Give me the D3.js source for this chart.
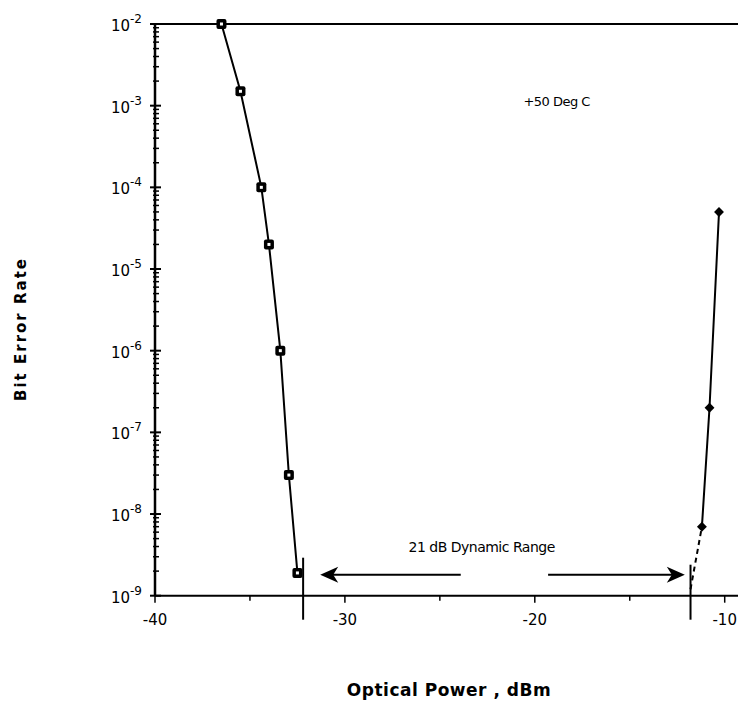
<!DOCTYPE html>
<html>
<head>
<meta charset="utf-8">
<script src="https://cdn.jsdelivr.net/npm/d3@7"></script>
<style>
  body { margin: 0; background: #fff; }
  text { font-family: "DejaVu Sans", sans-serif; }
</style>
</head>
<body>
<div id="chart"></div>
<script>
// BER vs optical power, +50 C, with dynamic range markers

var lowPower = [-36.5, -35.5, -34.4, -34.0, -33.4, -32.95, -32.5];
var lowBer = [1e-2, 1.5e-3, 1e-4, 2e-5, 1e-6, 3e-8, 1.9e-9];

var highPower = [-11.2, -10.8, -10.3];
var highBer = [7e-9, 2e-7, 5e-5];

// dashed extrapolation of the overload curve
var extPower = [-11.8, -11.2];
var extBer = [1.2e-9, 7e-9];

var rangeEdges = [-32.2, -11.8];
var xTicks = [-40, -30, -20, -10];
var yExponents = [-2, -3, -4, -5, -6, -7, -8, -9];

(function() {
  var width = 738, height = 711;
  var margin = { top: 24, left: 155, right: 0, bottom: 115 };

  var svg = d3.select("#chart")
    .append("svg")
    .attr("width", width)
    .attr("height", height);

  var x = d3.scaleLinear()
    .domain([-40, -9.3])
    .range([margin.left, width - margin.right]);

  var y = d3.scaleLog()
    .domain([1e-9, 1e-2])
    .range([height - margin.bottom - 0.3, margin.top]);

  var low = lowPower.map(function(p, i) { return { p: p, b: lowBer[i] }; });
  var high = highPower.map(function(p, i) { return { p: p, b: highBer[i] }; });
  var ext = extPower.map(function(p, i) { return { p: p, b: extBer[i] }; });

  var line = d3.line()
    .x(function(d) { return x(d.p); })
    .y(function(d) { return y(d.b); });

  var y0 = y(1e-9), yTop = y(1e-2);

  // frame: top line and axes
  svg.append("line")
    .attr("x1", x(-40)).attr("x2", width)
    .attr("y1", yTop).attr("y2", yTop)
    .attr("stroke", "#000").attr("stroke-width", 2);
  svg.append("line")
    .attr("x1", x(-40)).attr("x2", width)
    .attr("y1", y0).attr("y2", y0)
    .attr("stroke", "#000").attr("stroke-width", 2);
  svg.append("line")
    .attr("x1", x(-40)).attr("x2", x(-40))
    .attr("y1", yTop).attr("y2", y0)
    .attr("stroke", "#000").attr("stroke-width", 2.5);

  // y ticks: majors + minors
  var minor = [];
  yExponents.forEach(function(e) {
    if (e === -2) return;
    for (var k = 2; k <= 9; k++) minor.push(k * Math.pow(10, e));
  });
  svg.selectAll(".ymin")
    .data(minor)
    .enter().append("line")
    .attr("x1", x(-40) - 2).attr("x2", x(-40) + 4)
    .attr("y1", function(d) { return y(d); })
    .attr("y2", function(d) { return y(d); })
    .attr("stroke", "#000").attr("stroke-width", 1.5);
  svg.selectAll(".ymaj")
    .data(yExponents)
    .enter().append("line")
    .attr("x1", x(-40) - 5).attr("x2", x(-40) + 6)
    .attr("y1", function(d) { return y(Math.pow(10, d)); })
    .attr("y2", function(d) { return y(Math.pow(10, d)); })
    .attr("stroke", "#000").attr("stroke-width", 2);

  var ylab = svg.selectAll(".ylab")
    .data(yExponents)
    .enter().append("text")
    .attr("x", x(-40) - 13)
    .attr("y", function(d) { return y(Math.pow(10, d)) + 7; })
    .attr("text-anchor", "end")
    .attr("font-size", 15);
  ylab.append("tspan").text("10");
  ylab.append("tspan")
    .attr("dy", -8)
    .attr("font-size", 12)
    .text(function(d) { return "-" + (-d); });

  // x ticks every 5 dB
  var xt = d3.range(-40, -9, 5);
  svg.selectAll(".xt")
    .data(xt)
    .enter().append("line")
    .attr("x1", function(d) { return x(d); })
    .attr("x2", function(d) { return x(d); })
    .attr("y1", y0)
    .attr("y2", function(d) { return d % 10 === 0 ? y0 + 7 : y0 + 5; })
    .attr("stroke", "#000").attr("stroke-width", 1.5);
  svg.selectAll(".xlab")
    .data(xTicks)
    .enter().append("text")
    .attr("x", function(d) { return x(d); })
    .attr("y", y0 + 29)
    .attr("text-anchor", "middle")
    .attr("font-size", 15)
    .text(function(d) { return d; });

  // curves
  svg.append("path")
    .datum(low)
    .attr("d", line)
    .attr("fill", "none").attr("stroke", "#000").attr("stroke-width", 2);
  svg.append("path")
    .datum(high)
    .attr("d", line)
    .attr("fill", "none").attr("stroke", "#000").attr("stroke-width", 2);
  svg.append("path")
    .datum(ext)
    .attr("d", line)
    .attr("fill", "none").attr("stroke", "#000").attr("stroke-width", 2)
    .attr("stroke-dasharray", "5,4");

  // markers
  var sq = svg.selectAll(".sq")
    .data(low)
    .enter().append("g")
    .attr("transform", function(d) { return "translate(" + x(d.p) + "," + y(d.b) + ")"; });
  sq.append("rect")
    .attr("x", -5).attr("y", -5).attr("width", 10).attr("height", 10).attr("rx", 2)
    .attr("fill", "#000");
  sq.append("rect")
    .attr("x", -1.5).attr("y", -1.5).attr("width", 3).attr("height", 3)
    .attr("fill", "#fff");

  svg.selectAll(".dia")
    .data(high)
    .enter().append("path")
    .attr("transform", function(d) { return "translate(" + x(d.p) + "," + y(d.b) + ") rotate(45)"; })
    .attr("d", "M-3.5,-3.5H3.5V3.5H-3.5Z")
    .attr("fill", "#000");

  // dynamic range edges
  svg.selectAll(".edge")
    .data(rangeEdges)
    .enter().append("line")
    .attr("x1", function(d) { return x(d); })
    .attr("x2", function(d) { return x(d); })
    .attr("y1", function(d, i) { return i === 0 ? y0 - 38 : y0 - 31; })
    .attr("y2", y0 + 24)
    .attr("stroke", "#000").attr("stroke-width", 2);

  // arrows
  var ay = y(1.8e-9);
  function arrow(xFrom, xTo) {
    var dir = xTo > xFrom ? 1 : -1;
    svg.append("line")
      .attr("x1", xFrom).attr("x2", xTo - dir * 12)
      .attr("y1", ay).attr("y2", ay)
      .attr("stroke", "#000").attr("stroke-width", 2);
    svg.append("path")
      .attr("d", "M" + xTo + "," + ay +
        "L" + (xTo - dir * 18) + "," + (ay - 8) +
        "L" + (xTo - dir * 13) + "," + ay +
        "L" + (xTo - dir * 18) + "," + (ay + 8) + "Z")
      .attr("fill", "#000");
  }
  arrow(x(-23.9), x(-31.3));
  arrow(x(-19.3), x(-12.1));

  svg.append("text")
    .attr("x", x(-22.8))
    .attr("y", y0 - 44)
    .attr("text-anchor", "middle")
    .attr("font-size", 14)
    .attr("letter-spacing", -0.5)
    .text("21 dB Dynamic Range");

  svg.append("text")
    .attr("x", x(-20.6))
    .attr("y", 106)
    .attr("font-size", 13)
    .attr("letter-spacing", -0.5)
    .text("+50 Deg C");

  // axis titles
  svg.append("text")
    .attr("transform", "translate(26,329) rotate(-90)")
    .attr("text-anchor", "middle")
    .attr("font-size", 15)
    .attr("font-weight", "bold")
    .attr("letter-spacing", 2)
    .text("Bit Error Rate");

  svg.append("text")
    .attr("x", 449)
    .attr("y", 696)
    .attr("text-anchor", "middle")
    .attr("font-size", 17)
    .attr("font-weight", "bold")
    .attr("letter-spacing", 0.5)
    .text("Optical Power , dBm");
})();
</script>
</body>
</html>
